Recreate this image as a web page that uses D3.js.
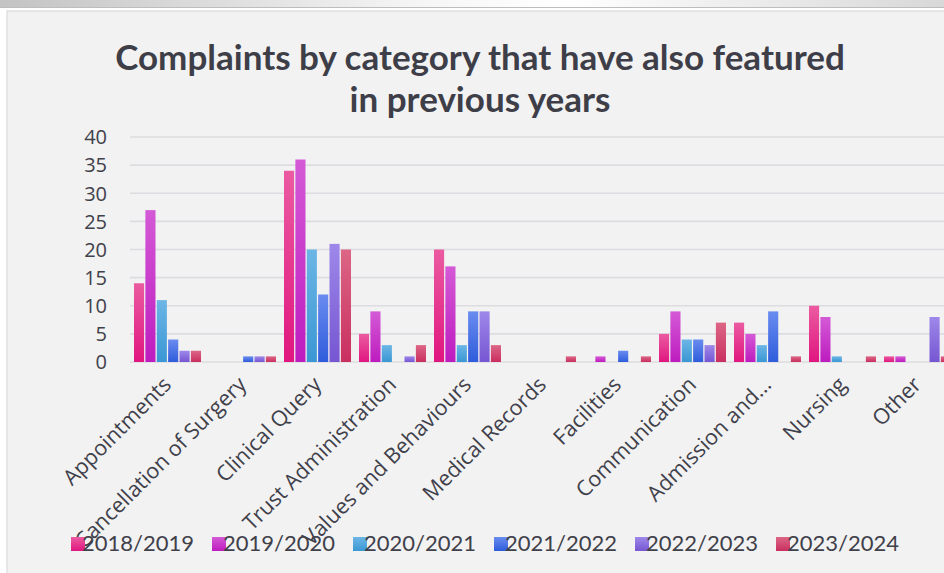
<!DOCTYPE html>
<html><head><meta charset="utf-8">
<script src="https://cdn.jsdelivr.net/npm/d3@7"></script>
<style>
html,body{margin:0;padding:0;background:#fff;overflow:hidden}
svg{display:block}
</style></head>
<body>
<svg id="chart" width="944" height="573"></svg>
<script>
const categories = ["Appointments","Cancellation of Surgery","Clinical Query","Trust Administration","Values and Behaviours","Medical Records","Facilities","Communication","Admission and...","Nursing","Other"];
const seriesNames = ["2018/2019","2019/2020","2020/2021","2021/2022","2022/2023","2023/2024"];
const s2018 = [14, 0, 34, 5, 20, 0, 0, 5, 7, 10, 1];
const s2019 = [27, 0, 36, 9, 17, 0, 1, 9, 5, 8, 1];
const s2020 = [11, 0, 20, 3, 3, 0, 0, 4, 3, 1, 0];
const s2021 = [4, 1, 12, 0, 9, 0, 2, 4, 9, 0, 0];
const s2022 = [2, 1, 21, 1, 9, 0, 0, 3, 0, 0, 8];
const s2023 = [2, 1, 20, 3, 3, 1, 1, 7, 1, 1, 1];
const yTicks = [0,5,10,15,20,25,30,35,40];
const titleLines = ["Complaints by category that have also featured","in previous years"];

const seriesValues = [s2018,s2019,s2020,s2021,s2022,s2023];
const topColors = ["#eb5ba1","#d45ad6","#6cb6e6","#6a8cf0","#9e88ea","#dc6686"];
const botColors = ["#e0167f","#bd1cbf","#3a97d3","#2e5cdb","#7656d2","#c92f5f"];

const svg = d3.select("#chart");
const W = 944, H = 573;
const textColor = "#40404a";

// frame
const defs = svg.append("defs");
const topGrad = defs.append("linearGradient").attr("id","topband").attr("x1","0").attr("x2","1");
topGrad.append("stop").attr("offset","0").attr("stop-color","#c3c3c3");
topGrad.append("stop").attr("offset","0.45").attr("stop-color","#f6f6f6");
topGrad.append("stop").attr("offset","0.6").attr("stop-color","#ffffff");
topGrad.append("stop").attr("offset","1").attr("stop-color","#d8d8d8");
svg.append("rect").attr("x",0).attr("y",0).attr("width",W).attr("height",H).attr("fill","#ffffff");
svg.append("rect").attr("x",0).attr("y",0).attr("width",W).attr("height",7).attr("fill","url(#topband)");
svg.append("rect").attr("x",0).attr("y",7).attr("width",W).attr("height",1).attr("fill","#bdbdbd");
svg.append("rect").attr("x",7).attr("y",11).attr("width",W).attr("height",H).attr("fill","#f2f2f2")
  .attr("stroke","#dadade").attr("stroke-width",1.2);

seriesNames.forEach((s,i)=>{
  const g = defs.append("linearGradient").attr("id","g"+i).attr("x1","0").attr("x2","0").attr("y1","0").attr("y2","1");
  g.append("stop").attr("offset","0").attr("stop-color",topColors[i]);
  g.append("stop").attr("offset","1").attr("stop-color",botColors[i]);
});

// title
const title = svg.append("text").attr("text-anchor","middle")
  .attr("font-family","Lato, 'Open Sans', sans-serif").attr("font-weight","bold")
  .attr("fill","#3e3e48").attr("font-size",32);
title.selectAll("tspan").data(titleLines).join("tspan")
  .attr("x",480).attr("y",(d,i)=> i===0 ? 70 : 112).text(d=>d);
{
  const t0 = title.select("tspan").node();
  const w = t0.getComputedTextLength();
  title.attr("font-size", 32 * 730 / w);
}

// scales
const x0 = d3.scaleBand().domain(categories).range([130, 130 + 75*categories.length]).paddingInner(0).paddingOuter(0);
const x1 = d3.scaleBand().domain(seriesNames).range([4, 71]).paddingInner(0.11).paddingOuter(0);
const y = d3.scaleLinear().domain([0,40]).range([362,137]);

// gridlines
svg.append("g").selectAll("line").data(yTicks).join("line")
  .attr("x1",130).attr("x2",W).attr("y1",d=>y(d)).attr("y2",d=>y(d))
  .attr("stroke","#dcdce1").attr("stroke-width",1.6);

// y axis
const yAxis = d3.axisLeft(y).tickValues(yTicks).tickSize(0).tickPadding(0);
const yg = svg.append("g").attr("transform","translate(107,0)").call(yAxis);
yg.select(".domain").remove();
yg.selectAll("text").attr("font-family","'Open Sans', sans-serif").attr("font-size",20)
  .attr("fill",textColor).attr("dy","0.34em");

// bars
const barG = svg.append("g");
categories.forEach((c,ci)=>{
  seriesNames.forEach((s,si)=>{
    const v = seriesValues[si][ci];
    if (v <= 0) return;
    barG.append("rect")
      .attr("x", x0(c) + x1(s))
      .attr("y", y(v))
      .attr("width", x1.bandwidth())
      .attr("height", y(0) - y(v))
      .attr("fill","url(#g"+si+")");
  });
});

// x axis labels
const xAxis = d3.axisBottom(x0).tickSize(0).tickPadding(0);
const xg = svg.append("g").attr("transform","translate(0,386)").call(xAxis);
xg.select(".domain").remove();
xg.selectAll("text")
  .attr("font-family","'Open Sans', sans-serif").attr("font-size",21.5).attr("fill",textColor)
  .attr("text-anchor","end").attr("dy",0)
  .attr("transform","translate(5,0) rotate(-45)");

// legend
const legend = svg.append("g");
seriesNames.forEach((s,i)=>{
  const lx = 71 + i*141;
  legend.append("rect").attr("x",lx).attr("y",537).attr("width",14).attr("height",14).attr("fill","url(#g"+i+")");
  legend.append("text").attr("x",lx+11).attr("y",551)
    .attr("font-family","Lato, sans-serif").attr("font-size",22).attr("fill",textColor).text(s);
});
</script>
</body></html>
